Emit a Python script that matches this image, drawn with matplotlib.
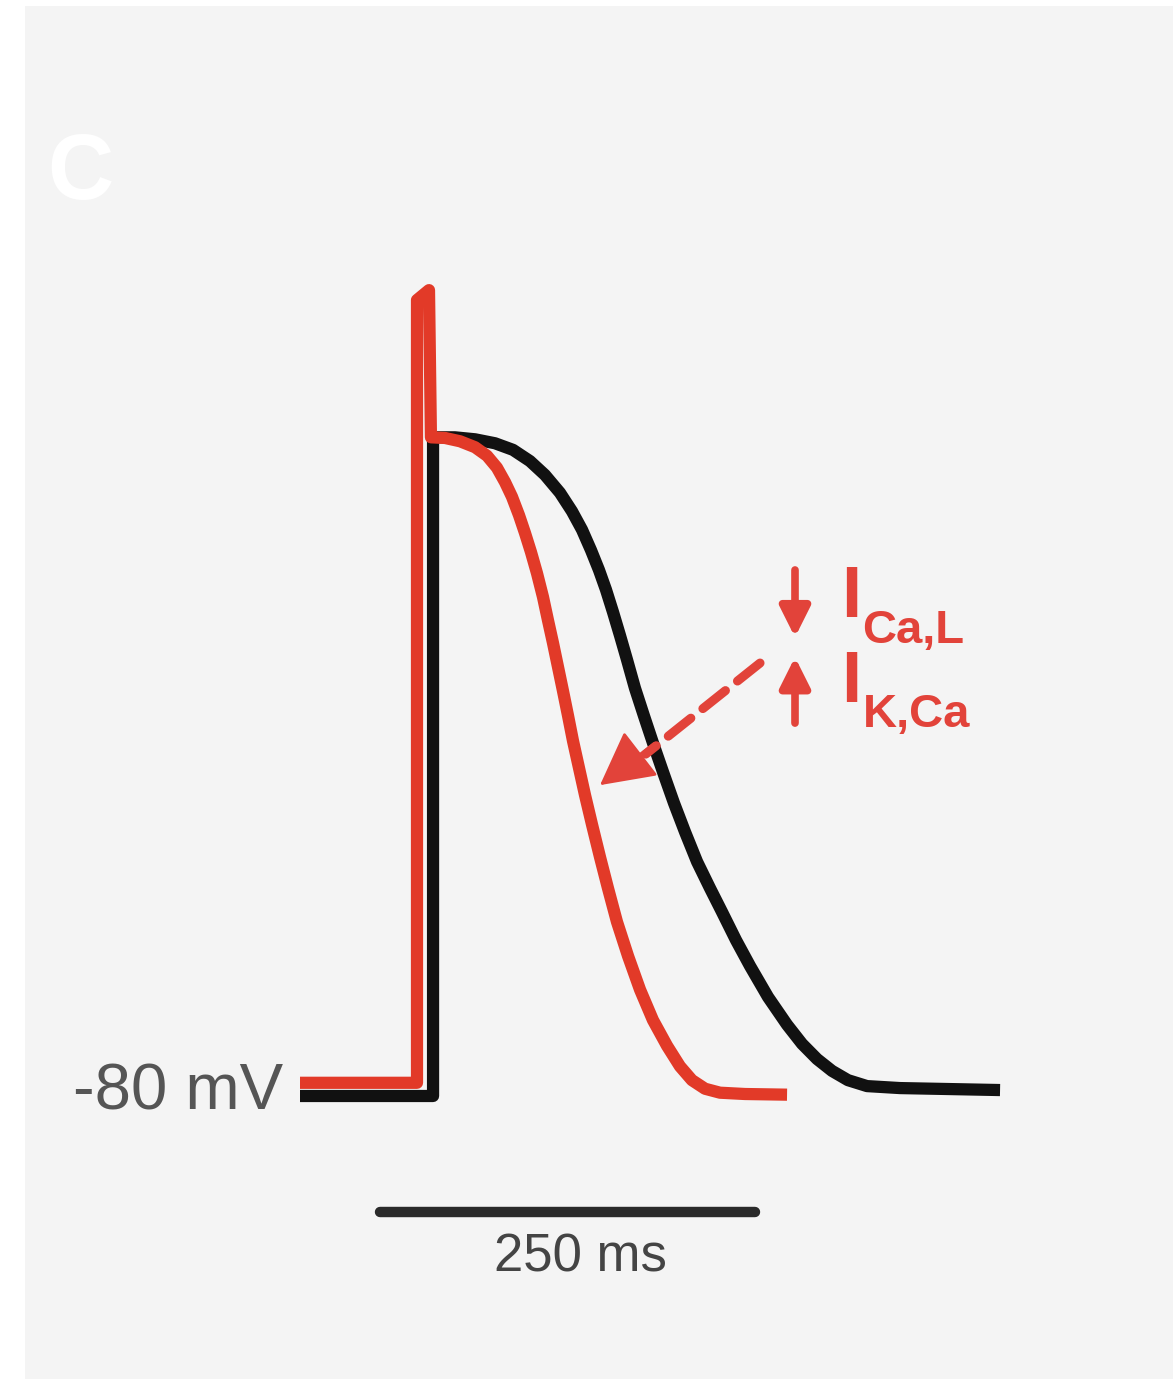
import matplotlib
matplotlib.use("Agg")
import matplotlib.pyplot as plt
from matplotlib.patches import Rectangle

# ---------------- data (time in ms, membrane potential in mV) ----------------
control_t = [0, 88.7, 88.7, 103.3, 116.7, 130.0, 142.0, 153.3, 163.3, 173.3, 181.3,
             188.0, 194.0, 199.3, 204.0, 208.7, 213.3, 218.0, 223.3, 229.3, 235.3,
             242.0, 249.3, 256.7, 264.7, 273.3, 281.3, 290.7, 300.0, 312.0, 324.7,
             334.7, 344.7, 354.7, 365.3, 378.0, 400.0, 466.7]
control_v = [-80, -80, 19.8, 19.8, 19.5, 18.9, 17.9, 16.2, 14.1, 11.4, 8.6,
             5.8, 2.7, -0.3, -3.3, -6.7, -10.2, -13.9, -18.2, -22.4, -26.5,
             -30.9, -35.6, -40.0, -44.5, -48.5, -52.1, -56.4, -60.3, -65.0, -69.2,
             -72.1, -74.4, -76.2, -77.6, -78.5, -78.8, -79.1]

treated_t = [0, 78.0, 78.0, 86.0, 87.3, 96.7, 106.7, 116.7, 124.7, 131.3, 136.7,
             141.3, 146.0, 150.0, 154.0, 158.0, 162.0, 165.3, 168.7, 172.0, 175.3,
             178.7, 182.0, 186.0, 190.0, 194.7, 200.0, 205.3, 211.3, 218.7, 226.7,
             235.3, 244.7, 253.3, 261.3, 270.0, 280.0, 296.7, 324.7]
treated_v = [-78.0, -78.0, 40.6, 42.1, 19.8, 19.7, 19.2, 18.3, 17.0, 15.2, 13.0,
             10.8, 8.0, 5.3, 2.4, -0.8, -4.4, -7.9, -11.4, -15.0, -18.6,
             -22.4, -26.2, -30.3, -34.4, -38.9, -43.8, -48.5, -53.6, -58.8, -63.9,
             -68.5, -72.4, -75.5, -77.6, -78.9, -79.5, -79.7, -79.8]

scale_bar_ms = 250
scale_bar_start = 53
scale_bar_v = -97.6

label_rest = "-80 mV"
label_scale = "250 ms"
panel_label = "C"
current_1 = ("I", "Ca,L")
current_2 = ("I", "K,Ca")

# ---------------- figure ----------------
W, H, DPI = 1173, 1379, 100
fig = plt.figure(figsize=(W / DPI, H / DPI), dpi=DPI)
fig.patch.set_facecolor("white")
bg = Rectangle((25 / W, 0), 1, 1 - 6 / H, transform=fig.transFigure,
               facecolor="#f4f4f4", edgecolor="none", zorder=-10)
fig.patches.append(bg)

ax = fig.add_axes([0, 0, 1, 1])
ax.set_facecolor("none")
ax.patch.set_alpha(0)
ax.axis("off")
ax.set_zorder(1)
ax.set_xlim(-200, 582)
ax.set_ylim(-122.88, 86.06)

BLACK = "#111111"
RED = "#e23a28"
ARED = "#e2433a"

ax.plot(control_t, control_v, color=BLACK, lw=8.8, solid_joinstyle="round",
        solid_capstyle="butt", zorder=2)
ax.plot(treated_t, treated_v, color=RED, lw=8.8, solid_joinstyle="round",
        solid_capstyle="butt", zorder=3)

# scale bar
ax.plot([scale_bar_start, scale_bar_start + scale_bar_ms], [scale_bar_v, scale_bar_v],
        color="#2a2a2a", lw=7.5, solid_capstyle="round", zorder=2)
ax.text(187, -104.4, label_scale, ha="center", va="center", fontsize=38,
        color="#444444", family="Liberation Sans")

# -80 mV label
ax.text(-11, -79.5, label_rest, ha="right", va="center", fontsize=47,
        color="#555555", family="Liberation Sans")

# panel label
ax.text(-146.7, 59.5, panel_label, ha="center", va="center", fontsize=66,
        color="white", fontweight="bold", family="Liberation Sans")

# arrows for currents
head = "-|>,head_length=1.8,head_width=0.9"
ax.annotate("", xy=(330, -10.5), xytext=(330, -0.3),
            arrowprops=dict(arrowstyle=head, color=ARED, lw=5.5,
                            shrinkA=0, shrinkB=0), zorder=4)
ax.annotate("", xy=(330, -13.5), xytext=(330, -23.5),
            arrowprops=dict(arrowstyle=head, color=ARED, lw=5.5,
                            shrinkA=0, shrinkB=0), zorder=4)

# current labels
ax.text(361, -4.6, current_1[0], ha="left", va="center", fontsize=52, color=ARED,
        fontweight="bold", family="Liberation Sans")
ax.text(375, -9.5, current_1[1], ha="left", va="center", fontsize=34, color=ARED,
        fontweight="bold", family="Liberation Sans")
ax.text(361, -17.4, current_2[0], ha="left", va="center", fontsize=52, color=ARED,
        fontweight="bold", family="Liberation Sans")
ax.text(375, -22.2, current_2[1], ha="left", va="center", fontsize=34, color=ARED,
        fontweight="bold", family="Liberation Sans")

# dashed arrow pointing to the shortened AP
ax.plot([306.7, 230.5], [-14.4, -28.2], color=ARED, lw=6.5, ls=(0, (3.2, 1.7)),
        dash_capstyle="round", zorder=4)
ax.annotate("", xy=(200.0, -32.9), xytext=(236.0, -26.6),
            arrowprops=dict(arrowstyle="-|>,head_length=3.4,head_width=1.8",
                            color=ARED, lw=2, shrinkA=0, shrinkB=0), zorder=4)

fig.savefig("out.png", dpi=DPI, facecolor=fig.get_facecolor())
